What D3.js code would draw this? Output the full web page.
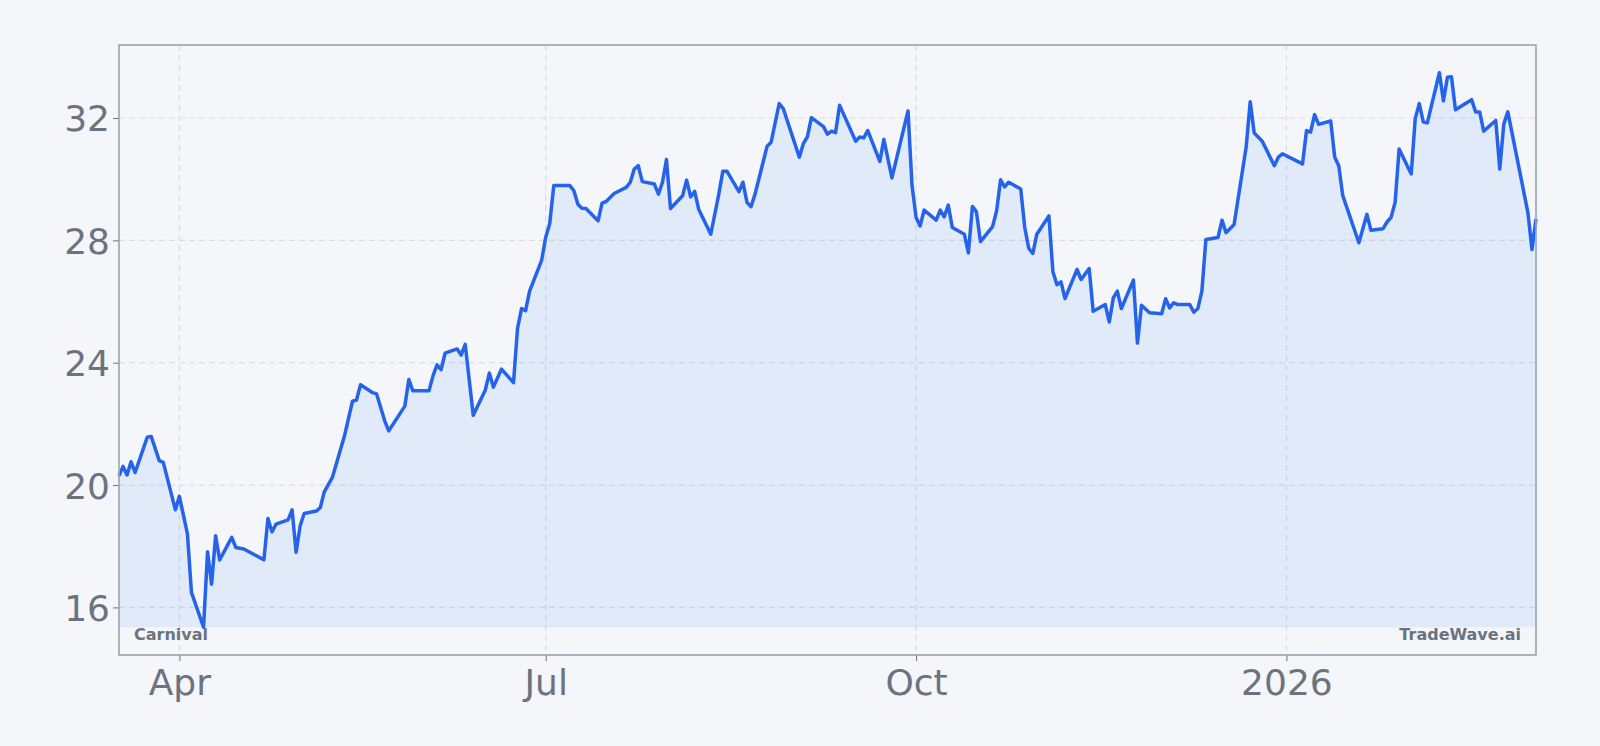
<!DOCTYPE html>
<html>
<head>
<meta charset="utf-8">
<script src="https://cdn.jsdelivr.net/npm/d3@7"></script>
<style>
  body { margin: 0; background: #f4f6f9; }
  svg { display: block; font-family: 'DejaVu Sans', sans-serif; }
  .tick text { fill: #6b7280; }
  .tick line { stroke: #6b7280; }
</style>
</head>
<body>
<svg id="canvas"></svg>
<script>
// closing prices
const dates = [
  '2025-03-17', '2025-03-18', '2025-03-19', '2025-03-20', '2025-03-21', '2025-03-24', '2025-03-25', '2025-03-27', '2025-03-28', '2025-03-31',
  '2025-04-01', '2025-04-03', '2025-04-04', '2025-04-07', '2025-04-08', '2025-04-09', '2025-04-10', '2025-04-11', '2025-04-14', '2025-04-15',
  '2025-04-17', '2025-04-22', '2025-04-23', '2025-04-24', '2025-04-25', '2025-04-28', '2025-04-29', '2025-04-30', '2025-05-01', '2025-05-02',
  '2025-05-05', '2025-05-06', '2025-05-07', '2025-05-09', '2025-05-12', '2025-05-14', '2025-05-15', '2025-05-16', '2025-05-19', '2025-05-20',
  '2025-05-22', '2025-05-23', '2025-05-27', '2025-05-28', '2025-05-29', '2025-06-02', '2025-06-03', '2025-06-04', '2025-06-05', '2025-06-06',
  '2025-06-09', '2025-06-10', '2025-06-11', '2025-06-13', '2025-06-16', '2025-06-17', '2025-06-18', '2025-06-20', '2025-06-23', '2025-06-24',
  '2025-06-25', '2025-06-26', '2025-06-27', '2025-06-30', '2025-07-01', '2025-07-02', '2025-07-03', '2025-07-07', '2025-07-08', '2025-07-09',
  '2025-07-10', '2025-07-11', '2025-07-14', '2025-07-15', '2025-07-16', '2025-07-17', '2025-07-18', '2025-07-21', '2025-07-22', '2025-07-23',
  '2025-07-24', '2025-07-25', '2025-07-28', '2025-07-29', '2025-07-30', '2025-07-31', '2025-08-01', '2025-08-04', '2025-08-05', '2025-08-06',
  '2025-08-07', '2025-08-08', '2025-08-11', '2025-08-13', '2025-08-14', '2025-08-15', '2025-08-18', '2025-08-19', '2025-08-20', '2025-08-21',
  '2025-08-22', '2025-08-25', '2025-08-26', '2025-08-28', '2025-08-29', '2025-09-02', '2025-09-03', '2025-09-04', '2025-09-05', '2025-09-08',
  '2025-09-09', '2025-09-10', '2025-09-11', '2025-09-12', '2025-09-16', '2025-09-17', '2025-09-18', '2025-09-19', '2025-09-22', '2025-09-23',
  '2025-09-25', '2025-09-29', '2025-09-30', '2025-10-01', '2025-10-02', '2025-10-03', '2025-10-06', '2025-10-07', '2025-10-08', '2025-10-09',
  '2025-10-10', '2025-10-13', '2025-10-14', '2025-10-15', '2025-10-16', '2025-10-17', '2025-10-20', '2025-10-21', '2025-10-22', '2025-10-23',
  '2025-10-24', '2025-10-27', '2025-10-28', '2025-10-29', '2025-10-30', '2025-10-31', '2025-11-03', '2025-11-04', '2025-11-05', '2025-11-06',
  '2025-11-07', '2025-11-10', '2025-11-11', '2025-11-13', '2025-11-14', '2025-11-17', '2025-11-18', '2025-11-19', '2025-11-20', '2025-11-21',
  '2025-11-24', '2025-11-25', '2025-11-26', '2025-11-28', '2025-12-01', '2025-12-02', '2025-12-03', '2025-12-04', '2025-12-05', '2025-12-08',
  '2025-12-09', '2025-12-10', '2025-12-11', '2025-12-12', '2025-12-15', '2025-12-16', '2025-12-17', '2025-12-19', '2025-12-22', '2025-12-23',
  '2025-12-24', '2025-12-26', '2025-12-29', '2025-12-30', '2025-12-31', '2026-01-05', '2026-01-06', '2026-01-07', '2026-01-08', '2026-01-09',
  '2026-01-12', '2026-01-13', '2026-01-14', '2026-01-15', '2026-01-19', '2026-01-21', '2026-01-22', '2026-01-25', '2026-01-26', '2026-01-27',
  '2026-01-28', '2026-01-29', '2026-02-01', '2026-02-02', '2026-02-03', '2026-02-04', '2026-02-05', '2026-02-08', '2026-02-09', '2026-02-10',
  '2026-02-11', '2026-02-12', '2026-02-16', '2026-02-17', '2026-02-18', '2026-02-19', '2026-02-22', '2026-02-23', '2026-02-24', '2026-02-25',
  '2026-03-02', '2026-03-03', '2026-03-04'
]
const prices = [
  20.30, 20.61, 20.33, 20.76, 20.41, 21.56, 21.59, 20.80, 20.74, 19.19,
  19.63, 18.40, 16.49, 15.35, 17.82, 16.76, 18.34, 17.55, 18.29, 17.96,
  17.91, 17.56, 18.91, 18.47, 18.72, 18.86, 19.19, 17.80, 18.67, 19.07,
  19.15, 19.26, 19.78, 20.25, 21.60, 22.74, 22.78, 23.28, 23.02, 22.98,
  22.10, 21.77, 22.58, 23.45, 23.08, 23.08, 23.57, 23.93, 23.77, 24.31,
  24.45, 24.25, 24.60, 22.28, 23.11, 23.66, 23.20, 23.79, 23.35, 25.12,
  25.77, 25.70, 26.34, 27.35, 28.10, 28.55, 29.79, 29.79, 29.62, 29.18,
  29.05, 29.04, 28.64, 29.22, 29.27, 29.40, 29.53, 29.73, 29.90, 30.33,
  30.44, 29.92, 29.84, 29.51, 29.90, 30.64, 29.04, 29.46, 29.97, 29.42,
  29.60, 29.02, 28.20, 29.51, 30.26, 30.26, 29.59, 29.90, 29.24, 29.10,
  29.51, 31.08, 31.21, 32.47, 32.31, 30.72, 31.16, 31.38, 32.01, 31.72,
  31.47, 31.57, 31.52, 32.42, 31.24, 31.38, 31.35, 31.59, 30.58, 31.30,
  30.04, 32.23, 29.79, 28.75, 28.47, 28.99, 28.66, 28.99, 28.77, 29.15,
  28.42, 28.20, 27.59, 29.11, 28.93, 27.96, 28.45, 28.96, 29.98, 29.75,
  29.90, 29.68, 28.42, 27.74, 27.57, 28.20, 28.80, 26.97, 26.55, 26.64,
  26.10, 27.05, 26.72, 27.08, 25.68, 25.90, 25.33, 26.12, 26.34, 25.77,
  26.70, 24.64, 25.88, 25.63, 25.60, 26.09, 25.79, 25.96, 25.90, 25.90,
  25.65, 25.77, 26.34, 28.03, 28.09, 28.66, 28.25, 28.52, 31.05, 32.53,
  31.51, 31.24, 30.44, 30.72, 30.83, 30.50, 31.59, 31.54, 32.11, 31.79,
  31.90, 30.72, 30.44, 29.46, 27.92, 28.85, 28.33, 28.38, 28.60, 28.75,
  29.24, 30.99, 30.17, 31.98, 32.47, 31.87, 31.84, 33.48, 32.56, 33.33,
  33.35, 32.27, 32.60, 32.20, 32.20, 31.57, 31.92, 30.33, 31.80, 32.20,
  28.90, 27.70, 28.70
]
const yTicks = [16, 20, 24, 28, 32]
const xTickDates = ['2025-04-01', '2025-07-01', '2025-10-01', '2026-01-01']
const xTickLabels = ['Apr', 'Jul', 'Oct', '2026']
const seriesName = 'Carnival'
const credit = 'TradeWave.ai'

const w = 1600
const h = 746
const plot = { left: 119, top: 45, right: 1536, bottom: 655 }
const parseDate = d3.timeParse('%Y-%m-%d')
const canvas = d3.select('#canvas').attr('width', w).attr('height', h)

const data = dates.map((d, i) => ({ date: parseDate(d), price: prices[i] }))

const xScale = d3.scaleTime()
                 .domain(d3.extent(data, d => d.date))
                 .range([plot.left, plot.right])

// matplotlib-like 5% margin around the data
const minP = d3.min(prices)
const maxP = d3.max(prices)
const pad = (maxP - minP) * 0.05
const yScale = d3.scaleLinear()
                 .domain([minP - pad, maxP + pad])
                 .range([plot.bottom, plot.top])

canvas.append('rect')
      .attr('width', w)
      .attr('height', h)
      .attr('fill', '#f4f6f9')

// grid
const grid = canvas.append('g')
                   .attr('stroke', '#d8dce3')
                   .attr('stroke-width', 1.2)
                   .attr('stroke-dasharray', '6,4')
grid.selectAll('.hgrid')
    .data(yTicks)
    .enter()
    .append('line')
    .attr('x1', plot.left)
    .attr('x2', plot.right)
    .attr('y1', d => yScale(d))
    .attr('y2', d => yScale(d))
grid.selectAll('.vgrid')
    .data(xTickDates)
    .enter()
    .append('line')
    .attr('x1', d => xScale(parseDate(d)))
    .attr('x2', d => xScale(parseDate(d)))
    .attr('y1', plot.top)
    .attr('y2', plot.bottom)

// filled area down to the lowest close, then the line on top
const area = d3.area()
               .x(d => xScale(d.date))
               .y0(yScale(minP))
               .y1(d => yScale(d.price))
const line = d3.line()
               .x(d => xScale(d.date))
               .y(d => yScale(d.price))

canvas.append('path')
      .datum(data)
      .attr('d', area)
      .attr('fill', '#3b82f6')
      .attr('fill-opacity', 0.1)

canvas.append('path')
      .datum(data)
      .attr('d', line)
      .attr('fill', 'none')
      .attr('stroke', '#2563eb')
      .attr('stroke-width', 3.5)
      .attr('stroke-linejoin', 'round')

// axes
const yAxis = d3.axisLeft(yScale)
                .tickValues(yTicks)
                .tickSize(6)
                .tickPadding(3)
canvas.append('g')
      .attr('transform', `translate(${plot.left},0)`)
      .call(yAxis)
      .call(g => g.select('.domain').remove())
      .selectAll('text')
      .attr('dy', '0.36em')

const xAxis = d3.axisBottom(xScale)
                .tickValues(xTickDates.map(parseDate))
                .tickFormat((_, i) => xTickLabels[i])
                .tickSize(6)
                .tickPadding(8)
canvas.append('g')
      .attr('transform', `translate(0,${plot.bottom})`)
      .call(xAxis)
      .call(g => g.select('.domain').remove())

canvas.selectAll('.tick text').attr('font-family', 'DejaVu Sans, sans-serif').attr('font-size', 36)

// frame
canvas.append('rect')
      .attr('x', plot.left)
      .attr('y', plot.top)
      .attr('width', plot.right - plot.left)
      .attr('height', plot.bottom - plot.top)
      .attr('fill', 'none')
      .attr('stroke', '#9ca3af')
      .attr('stroke-width', 1.6)

canvas.append('text')
      .attr('x', plot.left + 15)
      .attr('y', 640)
      .attr('font-size', 16)
      .attr('font-weight', 'bold')
      .attr('fill', '#6b7280')
      .text(seriesName)

canvas.append('text')
      .attr('x', plot.right - 15)
      .attr('y', 640)
      .attr('text-anchor', 'end')
      .attr('font-size', 16)
      .attr('font-weight', 'bold')
      .attr('fill', '#6b7280')
      .text(credit)
</script>
</body>
</html>
